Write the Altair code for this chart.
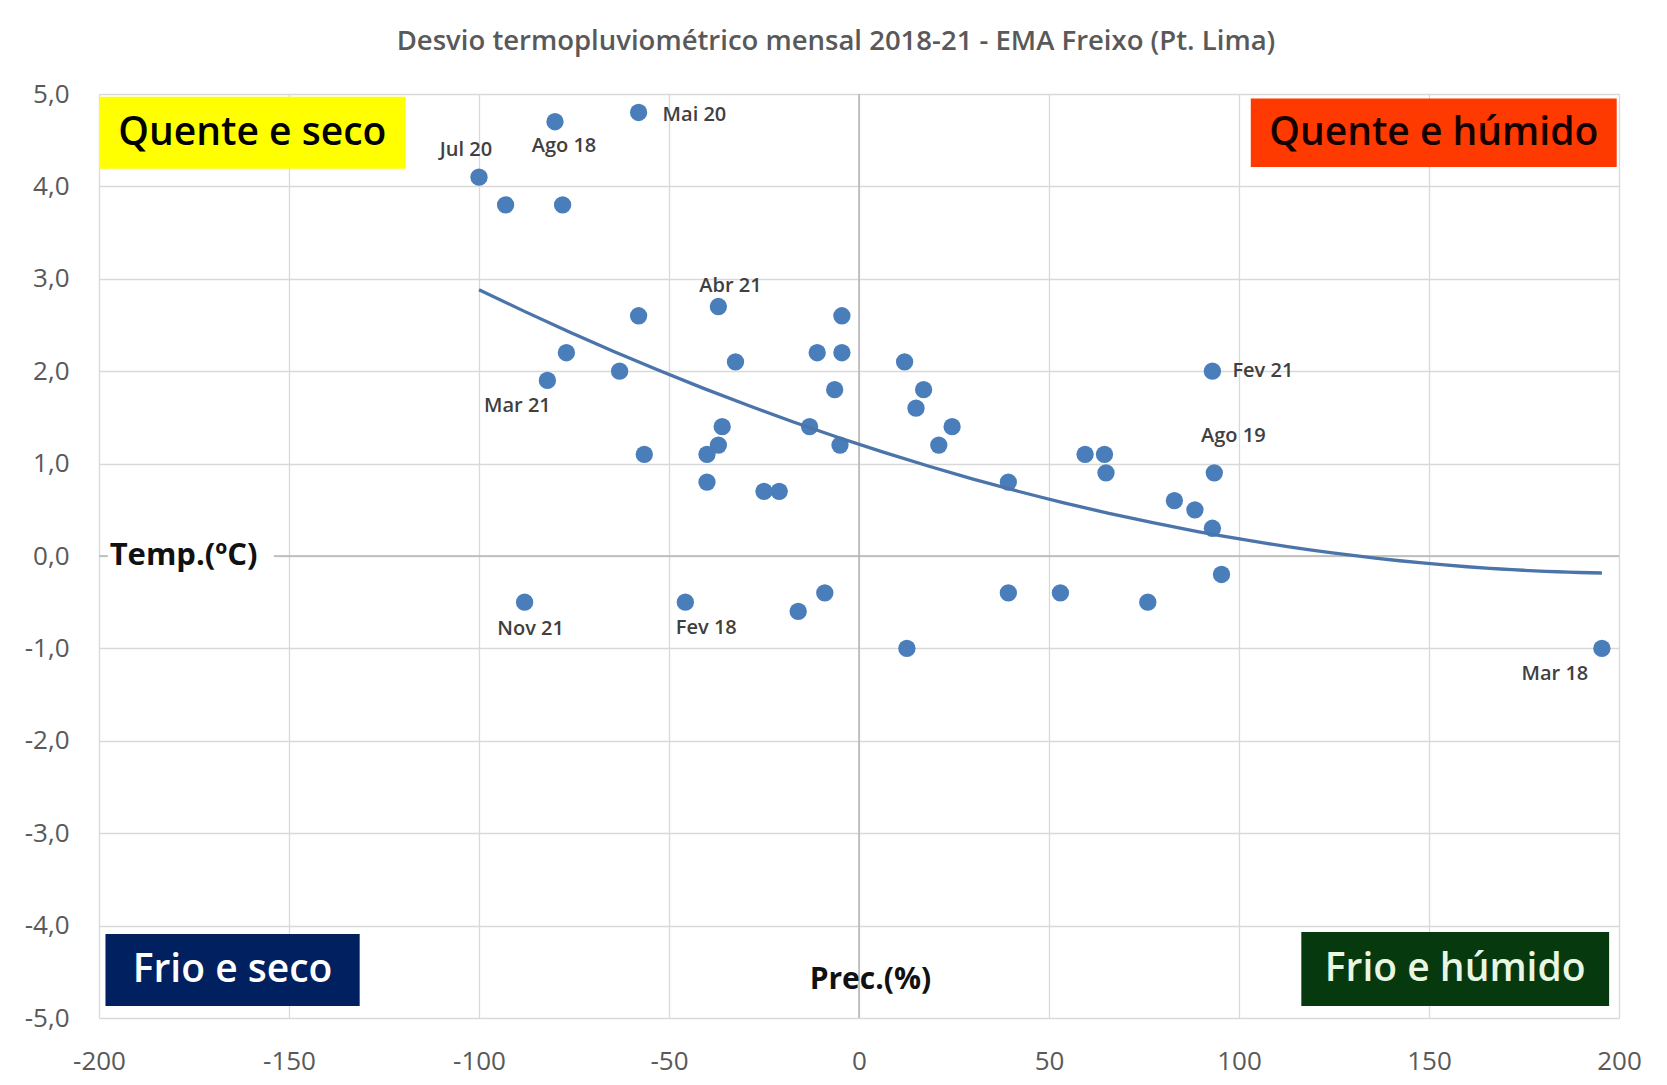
import altair as alt
import pandas as pd

# ---------------- data ----------------
prec = [-100, -93, -78, -80, -58, -58, -37, -77, -82, -63, -32.5, -56.5,
        -36, -37, -40, -40, -25, -21, -13, -11, -4.5, -4.5, -6.4, -5,
        12, 17, 15, 21, 24.5, 39.3, 59.5, 64.6, 65, 83, 88.4, 93,
        93.5, 93, 95.4, -88, -45.7, -16, -9, 12.6, 39.3, 53, 76, 195.5]
temp = [4.1, 3.8, 3.8, 4.7, 4.8, 2.6, 2.7, 2.2, 1.9, 2.0, 2.1, 1.1,
        1.4, 1.2, 1.1, 0.8, 0.7, 0.7, 1.4, 2.2, 2.6, 2.2, 1.8, 1.2,
        2.1, 1.8, 1.6, 1.2, 1.4, 0.8, 1.1, 1.1, 0.9, 0.6, 0.5, 0.3,
        0.9, 2.0, -0.2, -0.5, -0.5, -0.6, -0.4, -1.0, -0.4, -0.4, -0.5, -1.0]
labels = ["Jul 20", "", "", "Ago 18", "Mai 20", "", "Abr 21", "", "Mar 21", "", "", "",
          "", "", "", "", "", "", "", "", "", "", "", "",
          "", "", "", "", "", "", "", "", "", "", "", "",
          "Ago 19", "Fev 21", "", "Nov 21", "Fev 18", "", "", "", "", "", "", "Mar 18"]

x_ticks = [-200, -150, -100, -50, 0, 50, 100, 150, 200]
y_ticks = [-5, -4, -3, -2, -1, 0, 1, 2, 3, 4, 5]

title_text = "Desvio termopluviométrico mensal 2018-21 - EMA Freixo (Pt. Lima)"
quad_names = ["Quente e seco", "Quente e húmido", "Frio e seco", "Frio e húmido"]

df = pd.DataFrame({"prec": prec, "temp": temp, "lbl": labels})

# ---------------- annotation layout (kept apart from the data) ----------------
quad = pd.DataFrame({
    "label": quad_names,
    "x0": [-200, 103.1, -198.3, 116.4],
    "x1": [-119.3, 199.4, -131.4, 197.4],
    "y0": [4.97, 4.95, -4.09, -4.07],
    "y1": [4.19, 4.21, -4.87, -4.87],
    "fill": ["#ffff00", "#ff3a00", "#002060", "#063a0e"],
    "ink": ["#000000", "#140000", "#ffffff", "#e8f6e2"],
})

FONT = "Open Sans"
PT = "#4a7ebb"
LN = "#4a74aa"

xs = alt.Scale(domain=[-200, 200], nice=False, zero=False)
ys = alt.Scale(domain=[-5, 5], nice=False, zero=False)
xaxis = alt.Axis(values=x_ticks, title=None, labelPadding=30, labelFlush=False,
                 labelOverlap=False,
                 labelExpr="(datum.value < 0 ? '-' : '') + format(abs(datum.value), 'd')")
yaxis = alt.Axis(values=y_ticks, title=None, labelPadding=30, labelFlush=False,
                 labelOverlap=False,
                 labelExpr="replace((datum.value < 0 ? '-' : '') + format(abs(datum.value), '.1f'), '.', ',')")

X = alt.X("prec:Q", scale=xs, axis=xaxis)
Y = alt.Y("temp:Q", scale=ys, axis=yaxis)

base = alt.Chart(df)

zero_x = alt.Chart(pd.DataFrame({"prec": [0]})).mark_rule(color="#b4b4b4", strokeWidth=1.5).encode(x=X)
zero_y = alt.Chart(pd.DataFrame({"temp": [0]})).mark_rule(color="#b4b4b4", strokeWidth=1.5).encode(y=Y)

points = base.mark_circle(size=300, color=PT, opacity=1).encode(x=X, y=Y)

trend = base.transform_regression("prec", "temp", method="poly", order=2).mark_line(
    color=LN, strokeWidth=3.3).encode(x=X, y=Y)

label_place = {
    "Jul 20": (-13, -27, "center"),
    "Ago 18": (9, 24, "center"),
    "Mai 20": (24, 3, "left"),
    "Abr 21": (12, -21, "center"),
    "Mar 21": (-30, 26, "center"),
    "Ago 19": (19, -37, "center"),
    "Fev 21": (20, 0, "left"),
    "Nov 21": (6, 27, "center"),
    "Fev 18": (21, 26, "center"),
    "Mar 18": (-47, 26, "center"),
}
label_layers = []
for name, (dx, dy, al) in label_place.items():
    label_layers.append(
        base.transform_filter(alt.datum.lbl == name).mark_text(
            dx=dx, dy=dy, align=al, baseline="middle", font=FONT, fontSize=20,
            fontWeight=600, color="#404040").encode(x=X, y=Y, text="lbl:N")
    )

qbase = alt.Chart(quad)
qrect = qbase.mark_rect().encode(
    x=alt.X("x0:Q", scale=xs, axis=xaxis), x2="x1:Q",
    y=alt.Y("y0:Q", scale=ys, axis=yaxis), y2="y1:Q",
    fill=alt.Fill("fill:N", scale=None))
qtext = qbase.transform_calculate(
    xc="(datum.x0 + datum.x1) / 2", yc="(datum.y0 + datum.y1) / 2"
).mark_text(font=FONT, fontSize=39, fontWeight=600, align="center", baseline="middle").encode(
    x=alt.X("xc:Q", scale=xs, axis=xaxis), y=alt.Y("yc:Q", scale=ys, axis=yaxis),
    text="label:N", color=alt.Color("ink:N", scale=None))

# axis titles drawn inside the plot, as in the reference
tbg = alt.Chart(pd.DataFrame({"a": [-197.7], "b": [-154.0], "c": [-0.2], "d": [0.2]})).mark_rect(
    color="white").encode(x=alt.X("a:Q", scale=xs, axis=xaxis), x2="b:Q",
                          y=alt.Y("c:Q", scale=ys, axis=yaxis), y2="d:Q")
ttxt = alt.Chart(pd.DataFrame({"x": [-197.2], "y": [0.0], "t": ["Temp.(ºC)"]})).mark_text(
    font=FONT, fontSize=31, fontWeight="bold", align="left", baseline="middle", color="#111111"
).encode(x=alt.X("x:Q", scale=xs, axis=xaxis), y=alt.Y("y:Q", scale=ys, axis=yaxis), text="t:N")
ptxt = alt.Chart(pd.DataFrame({"x": [3.0], "y": [-4.59], "t": ["Prec.(%)"]})).mark_text(
    font=FONT, fontSize=30, fontWeight="bold", align="center", baseline="middle", color="#111111"
).encode(x=alt.X("x:Q", scale=xs, axis=xaxis), y=alt.Y("y:Q", scale=ys, axis=yaxis), text="t:N")

chart = alt.layer(
    zero_x, zero_y, qrect, qtext, tbg, ttxt, ptxt, points, trend, *label_layers
).properties(
    width=1520, height=924,
    title=alt.TitleParams(title_text, font=FONT, fontSize=27.5, fontWeight=600,
                          color="#595959", anchor="middle", baseline="alphabetic",
                          offset=42, dx=-23, dy=38),
    autosize=alt.AutoSizeParams(type="none"),
    padding={"left": 91, "top": 86, "right": 40, "bottom": 60},
).configure_view(stroke=None).configure_axis(
    labelFont=FONT, labelFontSize=26, labelColor="#595959",
    grid=True, gridColor="#d9d9d9", gridWidth=1.3,
    domain=False, ticks=False,
)

chart.save("out.html", embed_options={"renderer": "svg", "actions": False})
